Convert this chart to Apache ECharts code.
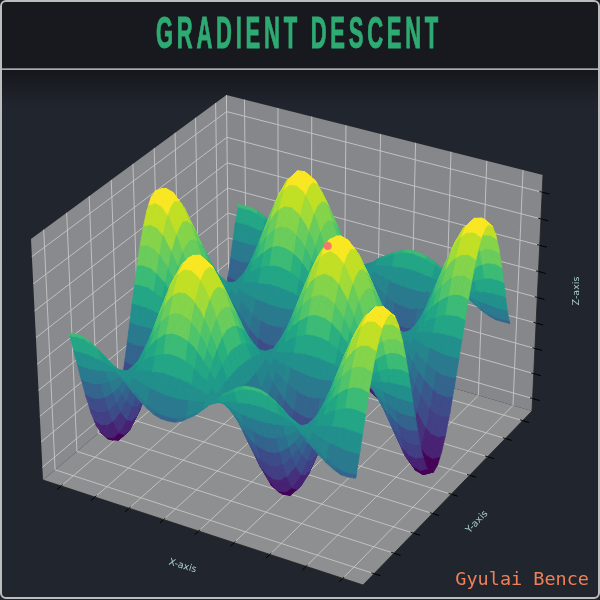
<!DOCTYPE html>
<html><head><meta charset="utf-8">
<style>html,body{margin:0;padding:0;background:#21252e}#c{width:600px;height:600px}</style>
<script src="https://cdn.jsdelivr.net/npm/echarts@6/dist/echarts.min.js"></script>
</head><body><div id="c"></div>
<script>
const titleText = 'GRADIENT DESCENT';
const authorText = 'Gyulai Bence';
const axisNames = ['X-axis', 'Y-axis', 'Z-axis'];
const xTicks = [-5, -3.75, -2.5, -1.25, 0, 1.25, 2.5, 3.75, 5];
const yTicks = [-5, -3.75, -2.5, -1.25, 0, 1.25, 2.5, 3.75, 5];
const zTicks = [-1, -0.75, -0.5, -0.25, 0, 0.25, 0.5, 0.75, 1];
const xHalf = [0,.25,.5,.75,1,1.25,1.5,1.75,2,2.25,2.5,2.75,3,3.25,3.5,3.75,4,4.25,4.5,4.75,5];
const yHalf = [0,.25,.5,.75,1,1.25,1.5,1.75,2,2.25,2.5,2.75,3,3.25,3.5,3.75,4,4.25,4.5,4.75,5];
const heightRows = [
[0,.25,.48,.68,.84,.95,1,.98,.91,.78,.6,.38,.14,-.11,-.35,-.57,-.76,-.9,-.98,-1,-.96],
[0,.24,.46,.66,.81,.92,.97,.95,.88,.75,.58,.37,.14,-.1,-.34,-.55,-.73,-.87,-.95,-.97,-.93],
[0,.22,.42,.6,.74,.83,.88,.86,.8,.68,.53,.34,.12,-.09,-.31,-.5,-.66,-.79,-.86,-.88,-.84],
[0,.18,.35,.5,.62,.69,.73,.72,.67,.57,.44,.28,.1,-.08,-.26,-.42,-.55,-.66,-.72,-.73,-.7],
[0,.13,.26,.37,.45,.51,.54,.53,.49,.42,.32,.21,.08,-.06,-.19,-.31,-.41,-.48,-.53,-.54,-.52],
[0,.08,.15,.21,.26,.3,.31,.31,.29,.25,.19,.12,.04,-.03,-.11,-.18,-.24,-.28,-.31,-.31,-.3],
[0,.02,.03,.05,.06,.07,.07,.07,.06,.06,.04,.03,.01,-.01,-.02,-.04,-.05,-.06,-.07,-.07,-.07],
[0,-.04,-.09,-.12,-.15,-.17,-.18,-.18,-.16,-.14,-.11,-.07,-.03,.02,.06,.1,.13,.16,.17,.18,.17],
[0,-.1,-.2,-.28,-.35,-.39,-.41,-.41,-.38,-.32,-.25,-.16,-.06,.04,.15,.24,.31,.37,.41,.42,.4],
[0,-.16,-.3,-.43,-.53,-.6,-.63,-.62,-.57,-.49,-.38,-.24,-.09,.07,.22,.36,.48,.56,.61,.63,.6],
[0,-.2,-.38,-.55,-.67,-.76,-.8,-.79,-.73,-.62,-.48,-.31,-.11,.09,.28,.46,.61,.72,.78,.8,.77],
[0,-.23,-.44,-.63,-.78,-.88,-.92,-.91,-.84,-.72,-.55,-.35,-.13,.1,.32,.53,.7,.83,.9,.92,.89],
[0,-.24,-.47,-.68,-.83,-.94,-.99,-.97,-.9,-.77,-.59,-.38,-.14,.11,.35,.57,.75,.89,.97,.99,.95],
[0,-.25,-.48,-.68,-.84,-.94,-.99,-.98,-.9,-.77,-.59,-.38,-.14,.11,.35,.57,.75,.89,.97,.99,.95],
[0,-.23,-.45,-.64,-.79,-.89,-.93,-.92,-.85,-.73,-.56,-.36,-.13,.1,.33,.54,.71,.84,.92,.94,.9],
[0,-.2,-.39,-.56,-.69,-.78,-.82,-.81,-.75,-.64,-.49,-.31,-.12,.09,.29,.47,.62,.73,.8,.82,.79],
[0,-.16,-.31,-.45,-.55,-.62,-.65,-.64,-.59,-.51,-.39,-.25,-.09,.07,.23,.37,.5,.59,.64,.65,.63],
[0,-.11,-.21,-.3,-.38,-.42,-.44,-.44,-.41,-.35,-.27,-.17,-.06,.05,.16,.26,.34,.4,.44,.45,.43],
[0,-.05,-.1,-.14,-.18,-.2,-.21,-.21,-.19,-.16,-.13,-.08,-.03,.02,.07,.12,.16,.19,.21,.21,.2],
[0,.01,.02,.03,.03,.04,.04,.04,.03,.03,.02,.01,.01,0,-.01,-.02,-.03,-.03,-.04,-.04,-.04],
[0,.07,.14,.19,.24,.27,.28,.28,.26,.22,.17,.11,.04,-.03,-.1,-.16,-.21,-.25,-.28,-.28,-.27]
];
const farEdgeRow = [0,.06,.11,.15,.19,.22,.23,.22,.21,.18,.14,.09,.03,-.02,-.08,-.13,-.17,-.2,-.22,-.22,-.22];
const markerPoint = [1.3, -0.2, 0.92];
const viridis = ['#440154','#481467','#482576','#453781','#404688','#39558c','#33638d','#2d718e','#287d8e','#238a8d','#1f968b','#20a386','#29af7f','#3dbc74','#56c667','#75d054','#95d840','#bade28','#dde318','#fde725'];

/* the surface is mirrored across both axes in the picture: odd in x, even in y */
const xFull = xHalf.slice(1).reverse().map(v => -v).concat(xHalf);
const yFull = yHalf.slice(1).reverse().map(v => -v).concat(yHalf);
const zAt = (i, j) => {
  const col = Math.abs(i - 20);
  const row = j === 40 ? farEdgeRow : heightRows[Math.abs(j - 20)];
  return (i < 20 ? -1 : 1) * row[col];
};
/* shading patches follow the two mesh directions */
const profX = i => (i < 20 ? -1 : 1) * heightRows[0][Math.abs(i - 20)];
const profY = j => heightRows[Math.abs(j - 20)][6];
const STEP = 1 / 6;
const COLOR_STEP = 0.09;

const cam = {O:[43,480],A:[300.8,74],B:[206.1,-129.2],C:[-13.42,-251.9],p:-0.053,q:0.0866,r:-0.0456};
const tickX = v => 0.06 + 0.88 * (v + 5) / 10;
const tickY = v => 0.06 + 0.88 * (v + 5) / 10;
const sx = v => 0.07 + 0.875 * (v + 5) / 10;
const sy = v => 0.055 + 0.89 * (v + 5) / 10;
const tz = v => 0.055 + 0.875 * (v + 1) / 2;
const depth = (x, y, z) => 1 + x * cam.p + y * cam.q + z * cam.r;
const boxPt = (x, y, z) => {
  const w = depth(x, y, z);
  return [(cam.O[0] + x*cam.A[0] + y*cam.B[0] + z*cam.C[0]) / w,
          (cam.O[1] + x*cam.A[1] + y*cam.B[1] + z*cam.C[1]) / w];
};

const patch = fn => function (t, x, y, m) {
  if (t === titleText) { this.letterSpacing = '7.5px'; fn.call(this, t, x, y); this.letterSpacing = '0px'; return; }
  return m === undefined ? fn.call(this, t, x, y) : fn.call(this, t, x, y, m);
};
CanvasRenderingContext2D.prototype.fillText = patch(CanvasRenderingContext2D.prototype.fillText);
CanvasRenderingContext2D.prototype.strokeText = patch(CanvasRenderingContext2D.prototype.strokeText);

const cells = [];
for (let j = 0; j < 40; j++) for (let i = 0; i < 40; i++) {
  const m = (zAt(i,j)+zAt(i+1,j)+zAt(i,j+1)+zAt(i+1,j+1))/4;
  cells.push({i, j, d: depth(sx((xFull[i]+xFull[i+1])/2), sy((yFull[j]+yFull[j+1])/2), tz(m))});
}
cells.sort((a, b) => b.d - a.d);
const cellData = cells.map(c => [c.i, c.j]);

function clip(poly, idx, lim, keepAbove) {
  const out = [];
  for (let k = 0; k < poly.length; k++) {
    const a = poly[k], b = poly[(k + 1) % poly.length];
    const ia = keepAbove ? a[idx] >= lim : a[idx] <= lim;
    const ib = keepAbove ? b[idx] >= lim : b[idx] <= lim;
    if (ia) out.push(a);
    if (ia !== ib) {
      const t = (lim - a[idx]) / (b[idx] - a[idx]);
      out.push(a.map((v, n) => v + (b[n] - v) * t));
    }
  }
  return out;
}
const hex = s => [1,3,5].map(n => parseInt(s.substr(n, 2), 16));
const rgb = viridis.map(hex);
function colorFor(zRaw) {
  const z = Math.round(zRaw / COLOR_STEP) * COLOR_STEP;
  const f = Math.max(0, Math.min(0.9999, (z + 1) / 2)) * 19;
  const n = Math.floor(f), t = f - n;
  const c = rgb[n].map((v, m) => Math.round(v + (rgb[n + 1][m] - v) * t));
  return 'rgb(' + c.join(',') + ')';
}
function patchPolys(tri, api, out) {
  const range = idx => {
    const vs = tri.map(p => p[idx]);
    return [Math.round(Math.min(...vs) / STEP), Math.round(Math.max(...vs) / STEP)];
  };
  const [a0, a1] = range(2), [b0, b1] = range(3);
  for (let ka = a0; ka <= a1; ka++) {
    let pa = clip(tri, 2, (ka - 0.5) * STEP, true);
    if (pa.length) pa = clip(pa, 2, (ka + 0.5) * STEP, false);
    if (pa.length < 3) continue;
    for (let kb = b0; kb <= b1; kb++) {
      let pb = clip(pa, 3, (kb - 0.5) * STEP, true);
      if (pb.length) pb = clip(pb, 3, (kb + 0.5) * STEP, false);
      if (pb.length < 3) continue;
      const c = colorFor(ka * kb * STEP * STEP);
      out.push({type:'polygon', silent:true, shape:{points: pb.map(p => api.coord([p[0], p[1]]))},
        style:{fill:c, stroke:c, lineWidth:0.7}});
    }
  }
}
const V = (i, j) => {
  const p = boxPt(sx(xFull[i]), sy(yFull[j]), tz(zAt(i, j)));
  return [p[0], p[1], profX(i), profY(j)];
};

const panes = [
  {pts:[[0,0,0],[1,0,0],[1,1,0],[0,1,0]], fill:'#8e8f90'},
  {pts:[[0,0,0],[0,1,0],[0,1,1],[0,0,1]], fill:'#888a8d'},
  {pts:[[0,1,0],[1,1,0],[1,1,1],[0,1,1]], fill:'#85878a'}
];
const GRID = '#c6c6c6';
const TICK = '#000';
const gridSegs = [];
gridSegs.push([[0,1,0],[0,1,1],GRID,1]);
xTicks.forEach(v => { const t = tickX(v);
  gridSegs.push([[t,0,0],[t,1,0],GRID,0.9], [[t,1,0],[t,1,1],GRID,0.9], [[t,-0.02,0],[t,0.008,0],TICK,1]); });
yTicks.forEach(v => { const t = tickY(v);
  gridSegs.push([[0,t,0],[1,t,0],GRID,0.9], [[0,t,0],[0,t,1],GRID,0.9], [[0.992,t,0],[1.02,t,0],TICK,1]); });
zTicks.forEach(v => { const t = tz(v);
  gridSegs.push([[0,0,t],[0,1,t],GRID,0.9], [[0,1,t],[1,1,t],GRID,0.9], [[0.992,1,t],[1.022,1,t],TICK,1]); });
gridSegs.push([[0,0,0],[1,0,0],'#222',0.8], [[1,0,0],[1,1,0],'#222',0.8], [[1,1,0],[1,1,1],'#222',0.8]);

const option = {
  animation:false,
  backgroundColor:'#21252e',
  grid:{left:0,right:0,top:0,bottom:0},
  xAxis:{type:'value',min:0,max:600,show:false},
  yAxis:{type:'value',min:0,max:600,inverse:true,show:false},
  graphic:[
    {type:'rect',z:-10,silent:true,shape:{x:0,y:70,width:600,height:530},
     style:{fill:{type:'linear',x:0,y:0,x2:0,y2:1,colorStops:[{offset:0,color:'#16171c'},{offset:0.07,color:'#21252e'},{offset:1,color:'#21252e'}]}}},
    {type:'rect',z:-9,silent:true,shape:{x:0,y:0,width:600,height:68},style:{fill:'#18191e'}},
    {type:'rect',z:-8,silent:true,shape:{x:0,y:68.5,width:600,height:1.2},style:{fill:'#d8d8d8'}},
    {type:'rect',z:50,silent:true,shape:{x:1,y:1,width:598,height:597,r:5},style:{fill:'none',stroke:'#bdbdbd',lineWidth:2}},
    {type:'text',z:60,x:299,y:35.5,scaleX:0.5,silent:true,style:{text:titleText,font:'bold 44px "Liberation Sans"',fill:'#2dab72',stroke:'#2dab72',lineWidth:1,textAlign:'center',textVerticalAlign:'middle'}},
    {type:'text',z:60,x:182.5,y:566,rotation:-0.3,silent:true,style:{text:axisNames[0],font:'9.5px "DejaVu Sans"',fill:'#a9cccc',textAlign:'center',textVerticalAlign:'middle'}},
    {type:'text',z:60,x:477,y:522,rotation:0.82,silent:true,style:{text:axisNames[1],font:'9.5px "DejaVu Sans"',fill:'#a9cccc',textAlign:'center',textVerticalAlign:'middle'}},
    {type:'text',z:60,x:577,y:291,rotation:1.5708,silent:true,style:{text:axisNames[2],font:'9.5px "DejaVu Sans"',fill:'#a9cccc',textAlign:'center',textVerticalAlign:'middle'}},
    {type:'text',z:60,x:589,y:580,silent:true,style:{text:authorText,font:'18.5px "DejaVu Sans Mono"',fill:'#f08058',textAlign:'right',textVerticalAlign:'middle'}}
  ],
  series:[
    {type:'custom',coordinateSystem:'cartesian2d',z:2,silent:true,clip:false,progressive:0,
     data:panes.map((_, k) => [k]),
     renderItem:(p, api) => {
       const pane = panes[api.value(0)];
       return {type:'polygon',shape:{points:pane.pts.map(q => api.coord(boxPt(q[0],q[1],q[2])))},style:{fill:pane.fill}};
     }},
    {type:'custom',coordinateSystem:'cartesian2d',z:3,silent:true,clip:false,progressive:0,
     data:gridSegs.map((_, k) => [k]),
     renderItem:(p, api) => {
       const s = gridSegs[api.value(0)];
       const a = api.coord(boxPt(s[0][0],s[0][1],s[0][2])), b = api.coord(boxPt(s[1][0],s[1][1],s[1][2]));
       return {type:'line',shape:{x1:a[0],y1:a[1],x2:b[0],y2:b[1]},style:{stroke:s[2],lineWidth:s[3]}};
     }},
    {type:'custom',coordinateSystem:'cartesian2d',z:4,silent:true,clip:false,progressive:0,
     data:cellData,
     renderItem:(p, api) => {
       const i = api.value(0), j = api.value(1);
       const a = V(i,j), b = V(i+1,j), c = V(i+1,j+1), d = V(i,j+1);
       const children = [];
       patchPolys([a,b,c], api, children);
       patchPolys([a,c,d], api, children);
       return {type:'group',children};
     }},
    {type:'custom',coordinateSystem:'cartesian2d',z:5,silent:true,clip:false,progressive:0,
     data:[markerPoint],
     renderItem:(p, api) => {
       const c = api.coord(boxPt(sx(api.value(0)), sy(api.value(1)), tz(api.value(2))));
       return {type:'circle',shape:{cx:c[0],cy:c[1],r:4},style:{fill:'#f4796a'}};
     }}
  ]
};
const chart = echarts.init(document.getElementById('c'), null, {renderer:'canvas', width:600, height:600});
chart.setOption(option);
</script></body></html>
